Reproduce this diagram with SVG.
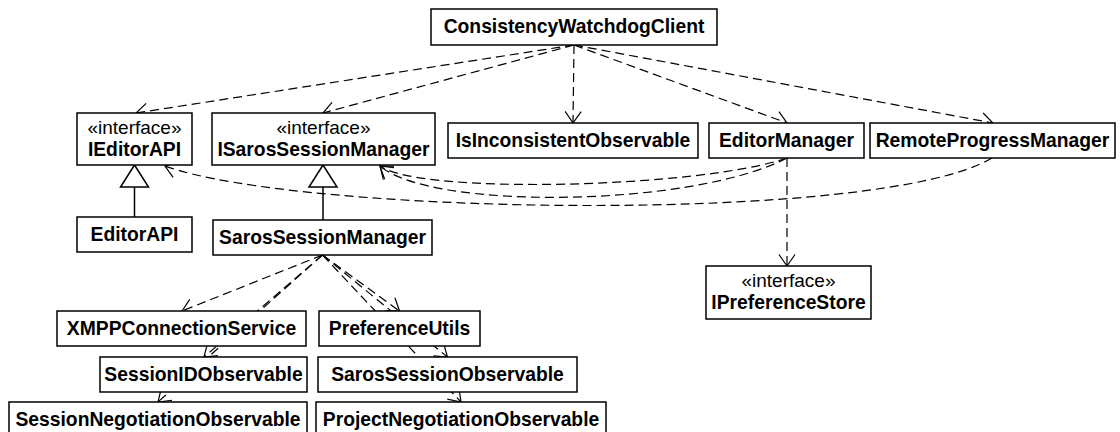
<svg xmlns="http://www.w3.org/2000/svg" width="1120" height="432" viewBox="0 0 1120 432">
<style>
.box{fill:#fff;stroke:#000;stroke-width:1.5}
.t{font-family:"Liberation Sans",Arial,sans-serif;font-size:19.3px;font-weight:bold;text-anchor:middle;fill:#000}
.st{font-weight:normal;font-size:19px}
.dep{fill:none;stroke:#000;stroke-width:1.2;stroke-dasharray:9 5;marker-end:url(#open)}
.gen{fill:none;stroke:#000;stroke-width:1.5}
.tri{fill:#fff;stroke:#000;stroke-width:1.5}
</style>
<defs>
<marker id="open" markerUnits="userSpaceOnUse" markerWidth="30" markerHeight="30" viewBox="-15 -15 30 30" refX="0" refY="0" orient="auto" overflow="visible">
<path d="M-11.5,-8 L0,0 L-11.5,8" fill="none" stroke="#000" stroke-width="1.2" stroke-dasharray="none"/>
</marker>
</defs>
<rect width="1120" height="432" fill="#fff"/>
<g id="connectors">
<path class="dep" d="M574,45 L136,113"/>
<path class="dep" d="M574,45 L323,113"/>
<path class="dep" d="M574,45 L573,123"/>
<path class="dep" d="M574,45 L787,123"/>
<path class="dep" d="M574,45 L993,123"/>
<path class="gen" d="M134.5,217 L134.5,187"/>
<path class="tri" d="M134.5,165 L120.5,187 L148.5,187 Z"/>
<path class="gen" d="M323,220 L323,187"/>
<path class="tri" d="M323,165 L309,187 L337,187 Z"/>
<path class="dep" d="M787,158 L787,266"/>
<path class="dep" d="M787,158 C700,188 420,195 380,166"/>
<path class="dep" d="M787,158 C690,208 430,210 380,166"/>
<path class="dep" d="M992,158 C880,225 300,215 165,166"/>
<path class="dep" d="M322.5,255 L182,311"/>
<path class="dep" d="M322.5,255 L204,357"/>
<path class="dep" d="M322.5,255 L158,402"/>
<path class="dep" d="M322.5,255 L399.5,311"/>
<path class="dep" d="M322.5,255 L447.5,357"/>
<path class="dep" d="M322.5,255 L461,402"/>
</g>
<g id="ConsistencyWatchdogClient"><rect class="box" x="431" y="9" width="286" height="36"/><text class="t" x="574" y="33">ConsistencyWatchdogClient</text></g>
<g id="IEditorAPI"><rect class="box" x="77" y="113" width="115" height="52"/><text class="t st" x="134.5" y="134">«interface»</text><text class="t" x="134.5" y="156">IEditorAPI</text></g>
<g id="ISarosSessionManager"><rect class="box" x="212" y="113" width="223" height="52"/><text class="t st" x="323.5" y="134">«interface»</text><text class="t" x="323.5" y="156">ISarosSessionManager</text></g>
<g id="IsInconsistentObservable"><rect class="box" x="448" y="123" width="250" height="35"/><text class="t" x="573" y="147">IsInconsistentObservable</text></g>
<g id="EditorManager"><rect class="box" x="709" y="123" width="155" height="35"/><text class="t" x="786.5" y="147">EditorManager</text></g>
<g id="RemoteProgressManager"><rect class="box" x="870" y="123" width="245" height="35"/><text class="t" x="992.5" y="147">RemoteProgressManager</text></g>
<g id="EditorAPI"><rect class="box" x="77" y="217" width="115" height="35"/><text class="t" x="134.5" y="241">EditorAPI</text></g>
<g id="SarosSessionManager"><rect class="box" x="213" y="220" width="219" height="35"/><text class="t" x="322.5" y="244">SarosSessionManager</text></g>
<g id="IPreferenceStore"><rect class="box" x="706" y="266" width="165" height="53"/><text class="t st" x="788.5" y="287">«interface»</text><text class="t" x="788.5" y="309">IPreferenceStore</text></g>
<g id="XMPPConnectionService"><rect class="box" x="57" y="311" width="249" height="35"/><text class="t" x="181.5" y="335">XMPPConnectionService</text></g>
<g id="PreferenceUtils"><rect class="box" x="319" y="311" width="161" height="35"/><text class="t" x="399.5" y="335">PreferenceUtils</text></g>
<g id="SessionIDObservable"><rect class="box" x="100" y="357" width="207" height="35"/><text class="t" x="203.5" y="381">SessionIDObservable</text></g>
<g id="SarosSessionObservable"><rect class="box" x="318" y="357" width="259" height="35"/><text class="t" x="447.5" y="381">SarosSessionObservable</text></g>
<g id="SessionNegotiationObservable"><rect class="box" x="9" y="402" width="298" height="35"/><text class="t" x="158" y="426">SessionNegotiationObservable</text></g>
<g id="ProjectNegotiationObservable"><rect class="box" x="316" y="402" width="290" height="35"/><text class="t" x="461" y="426">ProjectNegotiationObservable</text></g>
</svg>
